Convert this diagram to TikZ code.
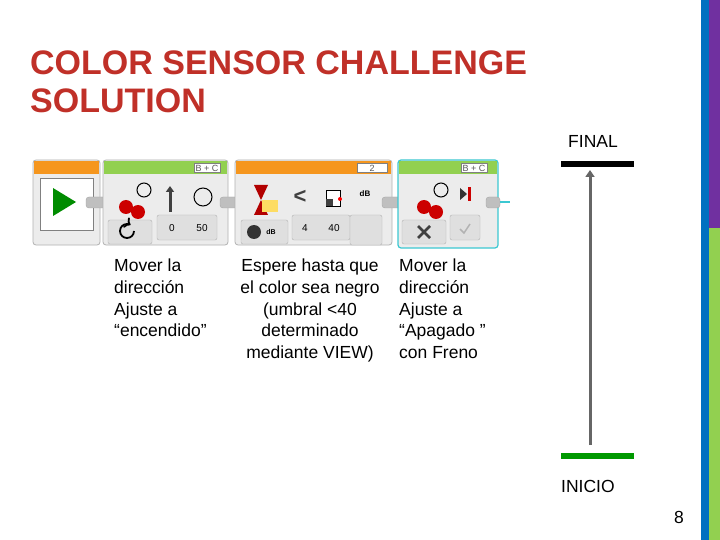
\documentclass[tikz,border=0pt]{standalone}
\usepackage{fontspec}
\setmainfont{Liberation Sans}
\usetikzlibrary{arrows.meta}
\definecolor{ttl}{RGB}{192,48,40}
\definecolor{lgreen}{RGB}{146,208,80}
\definecolor{lorange}{RGB}{245,150,30}
\definecolor{bgray}{RGB}{236,236,236}
\definecolor{cyan1}{RGB}{60,200,210}
\definecolor{sbblue}{RGB}{0,112,192}
\definecolor{sbpurple}{RGB}{112,48,160}
\tikzset{
 blk/.style={draw=gray!60,fill=bgray,rounded corners=3pt,line width=0.8pt},
 lbl/.style={font=\fontsize{17.5}{21.7}\selectfont,align=left,anchor=north west,inner sep=0pt},
 lblc/.style={font=\fontsize{17.5}{21.7}\selectfont,align=center,anchor=north,inner sep=0pt},
 plate/.style={draw=gray!60,fill=gray!25,rounded corners=2pt},
 conn/.style={fill=gray!50,draw=gray!70,rounded corners=3pt},
}
\begin{document}
\begin{tikzpicture}[x=1pt,y=-1pt]
\useasboundingbox (0,0) rectangle (720,540);
\fill[white] (0,0) rectangle (720,540);
% right bars
\fill[sbblue] (701,0) rectangle (709,540);
\fill[sbpurple] (709,0) rectangle (720,228);
\fill[lgreen] (709,228) rectangle (720,540);
% title
\node[anchor=base west,inner sep=0pt,text=ttl,font=\bfseries\fontsize{34}{38}\selectfont,align=left] (title) at (30,75) {COLOR SENSOR CHALLENGE};
\node[anchor=base west,inner sep=0pt,text=ttl,font=\bfseries\fontsize{34}{38}\selectfont] (title2) at (30,113) {SOLUTION};
% start block
\draw[blk] (33,160) rectangle (100,245);
\fill[lorange] (34,161) rectangle (99,174);
\draw[fill=white,draw=gray] (40,178) rectangle (93,230);
\fill[green!55!black] (53,188) -- (53,216) -- (76,202) -- cycle;
\draw[conn] (86,197) rectangle (112,208);
% block 1
\draw[blk] (103,160) rectangle (228,245);
\fill[lgreen] (104,161) rectangle (227,174);
\node[draw=gray,fill=white,font=\fontsize{9}{9}\selectfont,inner sep=1.5pt,text=gray!70!black] (bc1) at (207,168) {B + C};
\fill[red!80!black] (126,207) circle (7);\fill[red!80!black] (138,212) circle (7);
\draw[line width=1pt] (144,190) circle (7);
\draw[-{Triangle[length=6pt,width=8pt]},line width=3pt,black!75] (170,212) -- (170,186);
\draw[line width=1pt] (203,197) circle (9);
\draw[plate] (108,220) rectangle (152,244);
\draw[line width=1.8pt,->] (134,231) arc (0:300:7);
\draw[plate] (157,215) rectangle (217,240);
\node[font=\fontsize{10}{10}\selectfont] (v0) at (172,228) {0};
\node[font=\fontsize{10}{10}\selectfont] (v50) at (202,228) {50};
\draw[conn] (220,197) rectangle (244,208);
% block 2
\draw[blk] (235,160) rectangle (392,245);
\fill[lorange] (236,161) rectangle (391,174);
\node[draw=gray,fill=white,font=\fontsize{9}{9}\selectfont,inner sep=1.5pt,minimum width=30pt,text=gray!70!black] (n2) at (372,168) {2};
\fill[red!70!black] (254,185) -- (268,185) -- (261,200) -- (268,215) -- (254,215) -- (261,200) -- cycle;
\fill[yellow!60!orange!60] (262,200) rectangle (278,212);
\node[font=\bfseries\fontsize{22}{22}\selectfont,text=black!75] (lt) at (300,197) {<};
\draw[fill=white] (326,190) rectangle (340,206);\fill[black!75] (326,199) rectangle (333,206);\fill[red] (340,199) circle (2);
\node[font=\bfseries\fontsize{8}{8}\selectfont] (db) at (365,194) {dB};
\draw[plate] (241,220) rectangle (288,244);
\fill[black!80] (254,232) circle (7);
\node[font=\bfseries\fontsize{7}{7}\selectfont] (db2) at (271,232) {dB};
\draw[plate] (292,215) rectangle (350,240);
\node[font=\fontsize{10}{10}\selectfont] (v4) at (305,228) {4};
\node[font=\fontsize{10}{10}\selectfont] (v40) at (334,228) {40};
\draw[plate] (350,215) rectangle (382,245);
\draw[conn] (382,197) rectangle (410,208);
% block 3
\draw[blk,draw=cyan1,line width=1.2pt] (398,160) rectangle (498,248);
\fill[lgreen] (399,161) rectangle (497,174);
\node[draw=gray,fill=white,font=\fontsize{9}{9}\selectfont,inner sep=1.5pt,text=gray!70!black] (bc3) at (474,168) {B + C};
\fill[red!80!black] (424,207) circle (7);\fill[red!80!black] (436,212) circle (7);
\draw[line width=1pt] (441,190) circle (7);
\fill[black!80] (460,188) -- (460,200) -- (467,194) -- cycle;\fill[red!80!black] (468,187) rectangle (471,201);
\draw[plate] (402,220) rectangle (446,244);
\draw[line width=2.5pt,black!75] (418,226) -- (430,238) (430,226) -- (418,238);
\draw[plate] (450,215) rectangle (480,240);
\draw[gray!60,line width=1.5pt] (460,229) -- (464,233) -- (470,224);
\draw[conn] (486,197) rectangle (500,208);
\draw[cyan1,line width=1.2pt] (500,202) -- (510,202);
% labels
\node[lbl] (l1) at (114,259) {Mover la\\dirección\\Ajuste a\\“encendido\symbol{34}};
\node[lblc] (l2) at (310,259) {Espere hasta que\\el color sea negro\\(umbral <40\\determinado\\mediante VIEW)};
\node[lbl] (l3) at (399,259) {Mover la\\dirección\\Ajuste a\\“Apagado \symbol{34}\\con Freno};
% final/inicio
\node[font=\fontsize{17.5}{17.5}\selectfont,anchor=base west,inner sep=0pt] (fin) at (568,148) {FINAL};
\fill[black] (561,161) rectangle (634,167);
\coordinate (fbar) at (590,170);
\fill[green!60!black] (561,453) rectangle (634,459);
\coordinate (ibar) at (590,445);
\draw[gray!80!black,line width=3pt,-{Triangle[length=7pt,width=9pt]}] (ibar) -- (fbar);
\node[font=\fontsize{17.5}{17.5}\selectfont,anchor=base west,inner sep=0pt] (ini) at (561,492) {INICIO};
\node[font=\fontsize{17.5}{17.5}\selectfont,anchor=base east,inner sep=0pt] (pg) at (684,523) {8};
\end{tikzpicture}
\end{document}
